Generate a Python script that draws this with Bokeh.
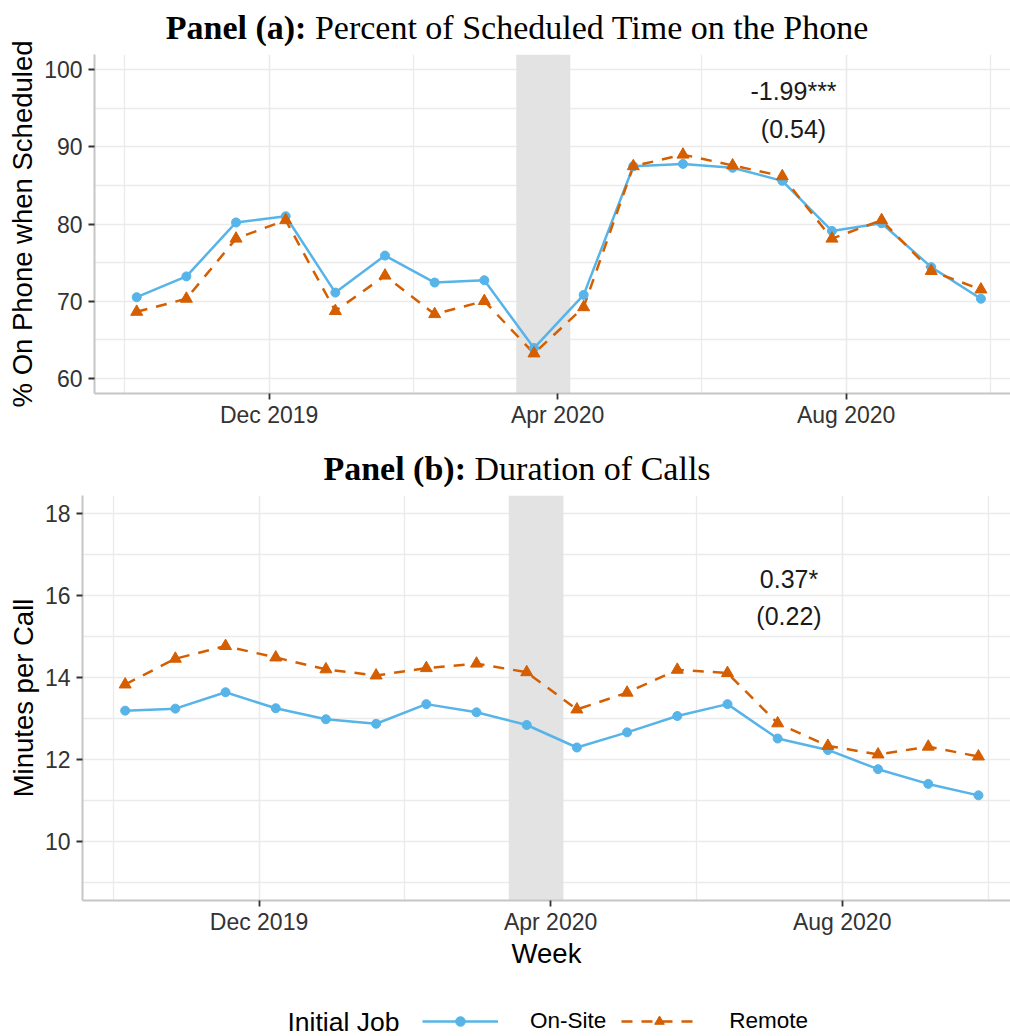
import pandas as pd
from bokeh.plotting import figure
from bokeh.models import (Range1d, FixedTicker, DatetimeTickFormatter, BoxAnnotation,
                          Legend, LegendItem, Label, Div, ColumnDataSource)
from bokeh.layouts import column
from bokeh.embed import file_html
from bokeh.resources import INLINE
from bokeh.core.properties import value

# ---------------- data ----------------
weeks = ["2019-10-06", "2019-10-27", "2019-11-17", "2019-12-08", "2019-12-29", "2020-01-19",
         "2020-02-09", "2020-03-01", "2020-03-22", "2020-04-12", "2020-05-03", "2020-05-24",
         "2020-06-14", "2020-07-05", "2020-07-26", "2020-08-16", "2020-09-06", "2020-09-27"]

onsite_phone = [70.5, 73.2, 80.2, 81.0, 71.1, 75.9, 72.4, 72.7, 63.9, 70.8,
                87.5, 87.8, 87.3, 85.6, 79.1, 80.1, 74.4, 70.3]
remote_phone = [68.6, 70.3, 78.1, 80.5, 68.7, 73.3, 68.3, 70.0, 63.2, 69.2,
                87.5, 89.0, 87.6, 86.2, 78.1, 80.5, 73.9, 71.5]

onsite_minutes = [13.19, 13.24, 13.64, 13.25, 12.98, 12.87, 13.35, 13.15, 12.84, 12.29,
                  12.66, 13.06, 13.35, 12.51, 12.23, 11.76, 11.40, 11.12]
remote_minutes = [13.83, 14.46, 14.77, 14.49, 14.20, 14.05, 14.23, 14.34, 14.13, 13.22,
                  13.63, 14.19, 14.11, 12.88, 12.33, 12.12, 12.31, 12.07]

shade_start = "2020-03-14 12:00"
shade_end = "2020-04-06 09:00"

major_ticks = ["2019-12-01", "2020-04-01", "2020-08-01"]
tick_labels = ["Dec 2019", "Apr 2020", "Aug 2020"]
minor_ticks = ["2019-10-01", "2020-01-31", "2020-06-01", "2020-10-01"]

phone_ticks = [60, 70, 80, 90, 100]
phone_limits = [60, 100]
minutes_ticks = [10, 12, 14, 16, 18]
minutes_limits = [9, 18]

annot_date = "2020-07-09 18:00"
annot_phone_text = ["-1.99***", "(0.54)"]
annot_phone_y = [97.2, 92.3]
annot_minutes_text = ["0.37*", "(0.22)"]
annot_minutes_y = [16.41, 15.51]

title_a = ["Panel (a):", "Percent of Scheduled Time on the Phone"]
title_b = ["Panel (b):", "Duration of Calls"]
series_labels = ["On-Site", "Remote"]
legend_title = "Initial Job"

# ---------------- style ----------------
BLUE = "#56B4E9"
ORANGE = "#D55E00"
GRID = "#EBEBEB"
SANS = "Liberation Sans"
SERIF = "Liberation Serif"
W = 1010


def ms(s):
    return pd.Timestamp(s).value / 1e6


wk_ms = [ms(w) for w in weeks]
span = wk_ms[-1] - wk_ms[0]
x_lo = wk_ms[0] - 0.05 * span
x_hi = wk_ms[-1] + 0.05 * span


def yminor(ticks, lo, hi):
    step = ticks[1] - ticks[0]
    cands = [t - step / 2 for t in ticks] + [ticks[-1] + step / 2]
    return [c for c in cands if lo <= c <= hi]


def line_styles():
    return (dict(line_color=BLUE, line_width=2.5),
            dict(line_color=ORANGE, line_width=2.5, line_dash="11 9"),
            dict(marker="circle", size=9, fill_color=BLUE, line_color=BLUE),
            dict(marker="triangle", size=12, fill_color=ORANGE, line_color=ORANGE))


def make_panel(height, border_left, border_top, border_bottom, end_frac, ticks, limits,
               src, ylabel, annot_text, annot_y, xlabel=None):
    ext = 0.05 * (limits[1] - limits[0])
    ylo, yhi = limits[0] - ext, limits[1] + ext
    p = figure(width=W, height=height, x_axis_type="datetime",
               output_backend="svg", toolbar_location=None, frame_align=False,
               min_border_left=border_left, min_border_right=0,
               min_border_top=border_top, min_border_bottom=border_bottom,
               x_range=Range1d(x_lo, x_lo + (x_hi - x_lo) * end_frac),
               y_range=Range1d(ylo, yhi))
    p.outline_line_color = None
    p.background_fill_color = "white"
    p.border_fill_alpha = 0

    p.xaxis.ticker = FixedTicker(ticks=[ms(t) for t in major_ticks],
                                 minor_ticks=[ms(t) for t in minor_ticks])
    p.xaxis.formatter = DatetimeTickFormatter(days="%b %Y", months="%b %Y", years="%b %Y")
    p.xaxis.major_label_overrides = {ms(t): lab for t, lab in zip(major_ticks, tick_labels)}
    p.yaxis.ticker = FixedTicker(ticks=ticks, minor_ticks=yminor(ticks, ylo, yhi))

    for ax in (p.xaxis[0], p.yaxis[0]):
        ax.axis_line_color = "#C6C6C6"
        ax.axis_line_width = 2
        ax.major_tick_line_color = "#333333"
        ax.major_tick_line_width = 1.8
        ax.major_tick_out = 6
        ax.major_tick_in = 0
        ax.minor_tick_line_color = None
        ax.major_label_text_font = SANS
        ax.major_label_text_font_size = "23px"
        ax.major_label_text_color = "#333333"
        ax.axis_label_text_font = SANS
        ax.axis_label_text_font_size = "27.5px"
        ax.axis_label_text_font_style = "normal"
        ax.axis_label_text_color = "black"
    p.yaxis.major_label_standoff = 6
    p.xaxis.major_label_standoff = 2
    p.yaxis.axis_label = ylabel
    p.yaxis.axis_label_standoff = 3
    if xlabel:
        p.xaxis.axis_label = xlabel
        p.xaxis.axis_label_standoff = 0

    for g in (p.xgrid[0], p.ygrid[0]):
        g.grid_line_color = GRID
        g.grid_line_width = 1.6
        g.minor_grid_line_color = GRID
        g.minor_grid_line_width = 1.3

    p.add_layout(BoxAnnotation(left=ms(shade_start), right=ms(shade_end),
                               fill_color="#E3E3E3", fill_alpha=1.0,
                               line_alpha=0, level="underlay"))

    lb, lo_, sb, so = line_styles()
    p.line("week", "onsite", source=src, **lb)
    p.line("week", "remote", source=src, **lo_)
    p.scatter("week", "onsite", source=src, **sb)
    p.scatter("week", "remote", source=src, **so)

    asrc = ColumnDataSource(dict(x=pd.to_datetime([annot_date] * len(annot_text)),
                                 y=annot_y, t=annot_text))
    p.text("x", "y", text="t", source=asrc, text_align="center", text_baseline="middle",
           text_font=value(SANS), text_font_size="25px", text_color="#1A1A1A")
    return p


def overlay_div(inner_html, height, margin):
    return Div(text=inner_html, width=W, height=height, margin=margin,
               styles={"z-index": "10", "overflow": "visible", "pointer-events": "none"})


def title_html(parts, pad_top):
    return ('<div style="font-family:\'%s\',serif; font-size:34px; line-height:1; '
            'padding-top:%dpx; text-align:center; width:%dpx; padding-left:24px; '
            'box-sizing:border-box; color:#000; white-space:nowrap;">'
            '<b>%s</b> %s</div>') % (SERIF, pad_top, W, parts[0], parts[1])


src_a = ColumnDataSource(dict(week=pd.to_datetime(weeks), onsite=onsite_phone,
                              remote=remote_phone))
src_b = ColumnDataSource(dict(week=pd.to_datetime(weeks), onsite=onsite_minutes,
                              remote=remote_minutes))

fig_a = make_panel(440, 94, 54, 47, 0.9864, phone_ticks, phone_limits, src_a,
                   "% On Phone when Scheduled", annot_phone_text, annot_phone_y)

fig_b = make_panel(535, 82, 55, 75, 0.9887, minutes_ticks, minutes_limits, src_b,
                   "Minutes per Call", annot_minutes_text, annot_minutes_y, xlabel="Week")

# ---- legend strip: its own small plot (1 unit = 1 px); its series renderers use the
# ---- real data, which lies far outside this strip's ranges, so only the key shows
LH = 60
fig_leg = figure(width=W, height=LH, output_backend="svg", toolbar_location=None,
                 x_axis_type=None, y_axis_type=None, min_border=0, frame_align=False,
                 x_range=Range1d(0, W), y_range=Range1d(0, LH))
fig_leg.outline_line_color = None
fig_leg.grid.visible = False
fig_leg.border_fill_alpha = 0
lb, lo_, sb, so = line_styles()
r1 = fig_leg.line("week", "onsite", source=src_b, **lb)
r2 = fig_leg.line("week", "remote", source=src_b, **lo_)
r3 = fig_leg.scatter("week", "onsite", source=src_b, **sb)
r4 = fig_leg.scatter("week", "remote", source=src_b, **so)
legend = Legend(items=[LegendItem(label=series_labels[0], renderers=[r1, r3]),
                       LegendItem(label=series_labels[1], renderers=[r2, r4])],
                orientation="horizontal", location=(422, 1),
                label_text_font=SANS, label_text_font_size="22.5px",
                label_text_color="black",
                glyph_width=76, glyph_height=24, label_standoff=32, spacing=15,
                border_line_color=None, background_fill_alpha=0, padding=0, margin=0)
fig_leg.add_layout(legend, "center")
fig_leg.add_layout(Label(x=287, y=14, text=legend_title, text_align="left",
                         text_baseline="middle", text_font=SANS, text_font_size="26.5px",
                         text_color="black"))

div_a = overlay_div(title_html(title_a, 11), 54, (0, 0, -54, 0))
div_b = overlay_div(title_html(title_b, 12), 55, (0, 0, -55, 0))

layout = column(div_a, fig_a, div_b, fig_b, fig_leg, spacing=0)
open("out.html", "w").write(file_html(layout, INLINE))
